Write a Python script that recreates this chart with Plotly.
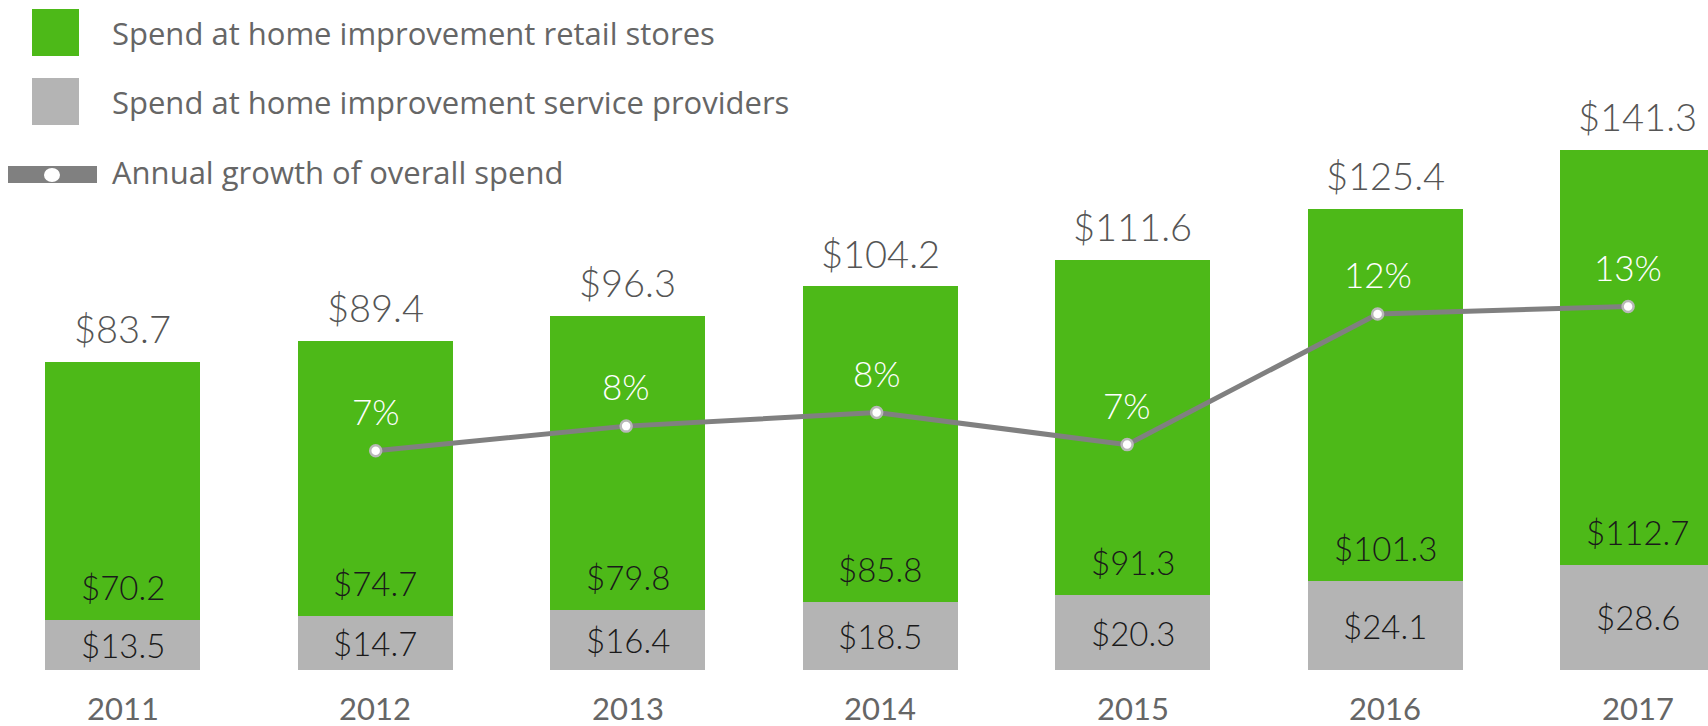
import plotly.graph_objects as go

years = ["2011", "2012", "2013", "2014", "2015", "2016", "2017"]
service = [13.5, 14.7, 16.4, 18.5, 20.3, 24.1, 28.6]
retail = [70.2, 74.7, 79.8, 85.8, 91.3, 101.3, 112.7]
totals = [83.7, 89.4, 96.3, 104.2, 111.6, 125.4, 141.3]
growth_years = ["2012", "2013", "2014", "2015", "2016", "2017"]
growth = [6.85, 7.85, 8.4, 7.1, 12.4, 12.7]
growth_labels = ["7%", "8%", "8%", "7%", "12%", "13%"]
legend_labels = [
    "Spend at home improvement retail stores",
    "Spend at home improvement service providers",
    "Annual growth of overall spend",
]

GREEN = "#4DB918"
GRAY = "#B4B4B4"
LINE = "#808080"
W, H = 1708, 726
PLOT_H = 670

xb = list(range(len(years)))
xl = [years.index(y) for y in growth_years]

fig = go.Figure()
fig.add_trace(go.Bar(x=xb, y=service, marker=dict(color=GRAY, line=dict(width=0)),
                     name=legend_labels[1], hoverinfo="skip"))
fig.add_trace(go.Bar(x=xb, y=retail, marker=dict(color=GREEN, line=dict(width=0)),
                     name=legend_labels[0], hoverinfo="skip"))
fig.add_trace(go.Scatter(x=xl, y=growth, xaxis="x2", yaxis="y2", mode="lines+markers",
                         line=dict(color=LINE, width=5),
                         marker=dict(size=11, color="white", line=dict(color="#B8B8B8", width=2.5)),
                         name=legend_labels[2], hoverinfo="skip"))

NUM = dict(family="Lato Light, Lato", weight=300)
ann = []
for i in xb:
    ann.append(dict(x=i, y=totals[i], xref="x", yref="y", text="$%.1f" % totals[i],
                    showarrow=False, yanchor="middle", yshift=34,
                    font=dict(size=38, color="#555555", **NUM)))
    ann.append(dict(x=i, y=service[i], xref="x", yref="y", text="$%.1f" % retail[i],
                    showarrow=False, yanchor="middle", yshift=33,
                    font=dict(size=33, color="#1a1a1a", **NUM)))
    ann.append(dict(x=i, y=service[i] / 2, xref="x", yref="y", text="$%.1f" % service[i],
                    showarrow=False, yanchor="middle",
                    font=dict(size=33, color="#1a1a1a", **NUM)))
    ann.append(dict(x=i, y=0, xref="x", yref="paper", text=years[i],
                    showarrow=False, yanchor="middle", yshift=-38,
                    font=dict(family="Lato", size=31, color="#666666")))
for j, xv in enumerate(xl):
    ann.append(dict(x=xv, y=growth[j], xref="x2", yref="y2", text=growth_labels[j],
                    showarrow=False, yanchor="middle", yshift=40,
                    font=dict(size=35, color="white", **NUM)))

# custom legend (pixel positions converted to paper coords)
def px(x):
    return x / W

def py(y):
    return 1 - y / PLOT_H

shapes = [
    dict(type="rect", xref="paper", yref="paper", x0=px(32), x1=px(79), y0=py(56), y1=py(9),
         fillcolor=GREEN, line=dict(width=0)),
    dict(type="rect", xref="paper", yref="paper", x0=px(32), x1=px(79), y0=py(125), y1=py(78),
         fillcolor=GRAY, line=dict(width=0)),
    dict(type="rect", xref="paper", yref="paper", x0=px(8), x1=px(97), y0=py(183), y1=py(166),
         fillcolor=LINE, line=dict(width=0)),
    dict(type="circle", xref="paper", yref="paper", x0=px(44), x1=px(60), y0=py(182), y1=py(168),
         fillcolor="white", line=dict(width=0)),
]
for k, yc in enumerate([33, 102, 172]):
    ann.append(dict(x=px(110), y=py(yc), xref="paper", yref="paper", text=legend_labels[k],
                    showarrow=False, xanchor="left", yanchor="middle",
                    font=dict(family="Open Sans", size=31, color="#666666")))

fig.update_layout(
    width=W, height=H,
    margin=dict(l=0, r=0, t=0, b=H - PLOT_H),
    barmode="stack", bargap=0.386,
    showlegend=False,
    plot_bgcolor="white", paper_bgcolor="white",
    xaxis=dict(range=[-0.486, 6.278], visible=False),
    xaxis2=dict(range=[-0.4998, 6.319], overlaying="x", visible=False),
    yaxis=dict(range=[0, 182.2], visible=False),
    yaxis2=dict(range=[-2.04, 25.13], overlaying="y", visible=False),
    annotations=ann, shapes=shapes,
)

fig.write_html("out.html", config={"displayModeBar": False},
               post_script="document.body.style.margin='0';")
